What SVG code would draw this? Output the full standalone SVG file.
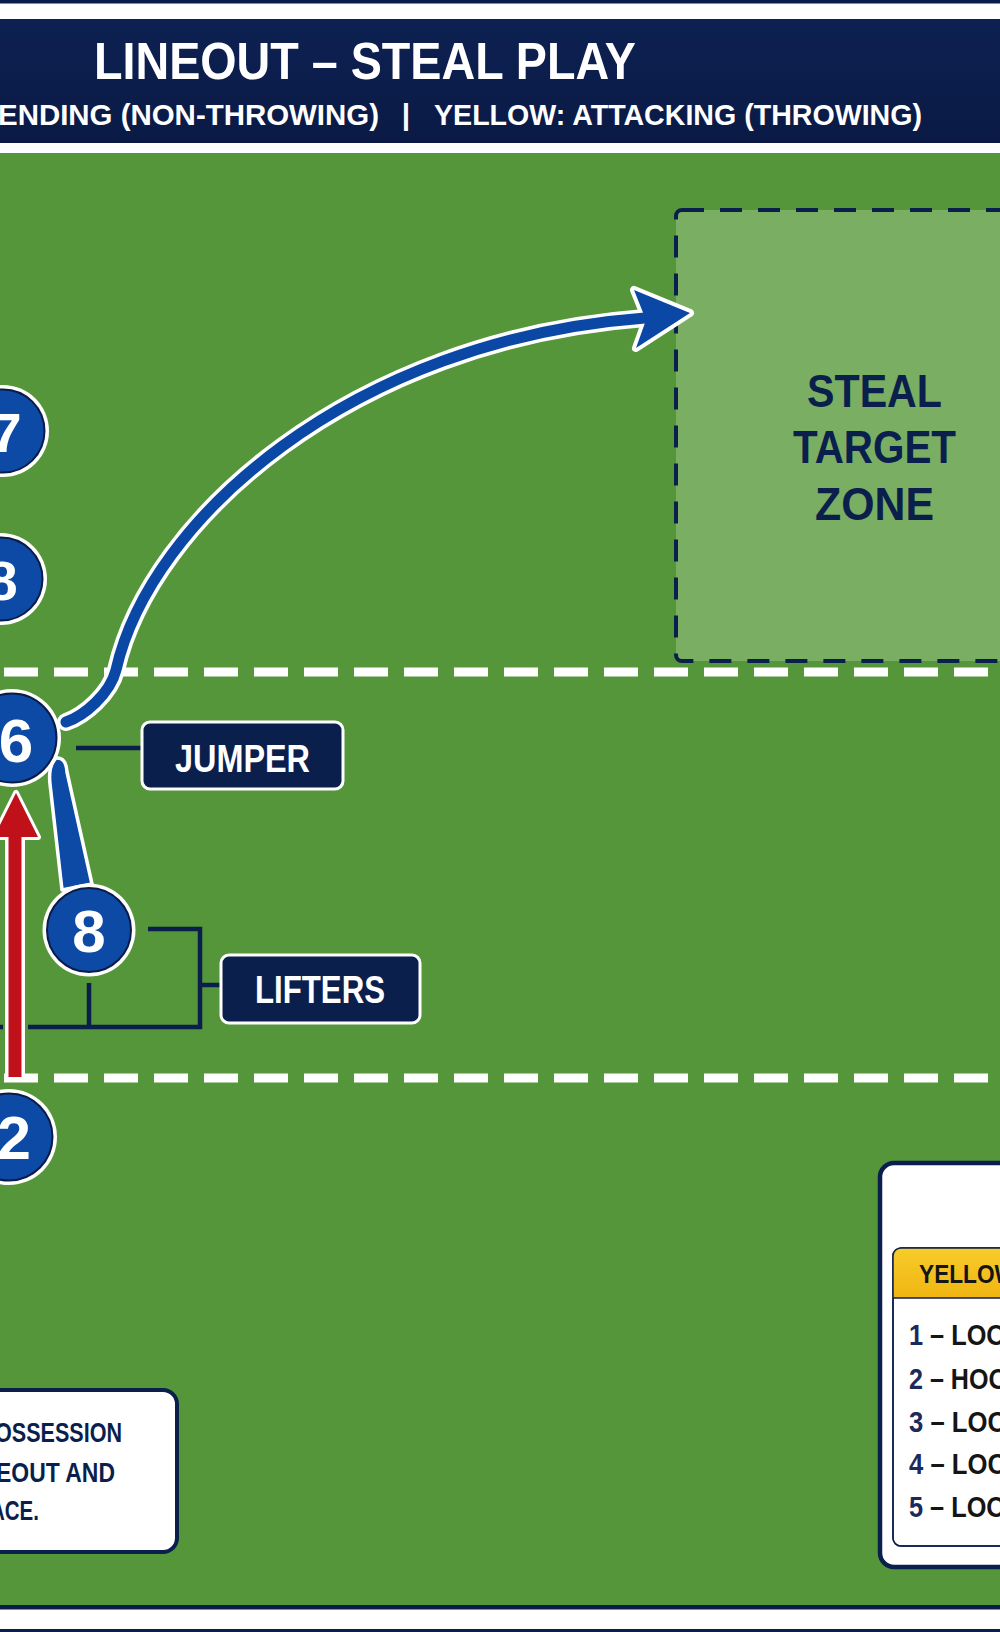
<svg xmlns="http://www.w3.org/2000/svg" width="1000" height="1632" viewBox="0 0 1000 1632">
<defs>
<style>
.t{font-family:"Liberation Sans",Arial,sans-serif;font-weight:bold}
.ring{fill:#ffffff}
.disc{fill:#0c4aa6;stroke:#0a1c45;stroke-width:2}
.num{font-family:"Liberation Sans",Arial,sans-serif;font-weight:bold;fill:#ffffff;text-anchor:middle}
.lbl{fill:#0b1f4d;stroke:#ffffff;stroke-width:3}
.lt{fill:#ffffff;font-size:38px}
.ln{stroke:#0b1f4d;stroke-width:4.5;fill:none}
.dash{stroke:#ffffff;stroke-width:9;stroke-dasharray:34 16;stroke-dashoffset:-4;fill:none}
.zt{fill:#0b1f4d;font-size:47px}
.bt{fill:#0b1f4d;font-size:27px}
.li{font-size:29px;fill:#151515}
.nv{fill:#1b2a5a}
</style>
<linearGradient id="hdr" x1="0" y1="0" x2="0" y2="1">
<stop offset="0" stop-color="#0d2152"/>
<stop offset="1" stop-color="#0a1a45"/>
</linearGradient>
<linearGradient id="yel" x1="0" y1="0" x2="0" y2="1">
<stop offset="0" stop-color="#f8cc2a"/>
<stop offset="1" stop-color="#efb512"/>
</linearGradient>
</defs>

<!-- frame and header -->
<rect x="0" y="0" width="1000" height="1632" fill="#ffffff"/>
<rect x="0" y="0" width="1000" height="3.5" fill="#0b1d4b"/>
<rect x="0" y="19" width="1000" height="124" fill="url(#hdr)"/>
<rect x="0" y="153" width="1000" height="1452" fill="#55963a"/>
<rect x="0" y="1605" width="1000" height="4.5" fill="#0b1d4b"/>
<rect x="0" y="1629" width="1000" height="3" fill="#0b1d4b"/>

<g id="title">
<text class="t" x="94" y="79" font-size="52" fill="#ffffff" textLength="542" lengthAdjust="spacingAndGlyphs">LINEOUT – STEAL PLAY</text>
<text class="t" x="-2" y="125" font-size="30" fill="#ffffff" textLength="381" lengthAdjust="spacingAndGlyphs">ENDING (NON-THROWING)</text>
<text class="t" x="406" y="125" font-size="30" fill="#ffffff" text-anchor="middle">|</text>
<text class="t" x="434" y="125" font-size="30" fill="#ffffff" textLength="488" lengthAdjust="spacingAndGlyphs">YELLOW: ATTACKING (THROWING)</text>
</g>

<!-- field lines -->
<g id="field-lines">
<path class="dash" d="M0,672 H1000"/>
<path class="dash" d="M0,1078 H1000"/>
</g>

<!-- steal target zone -->
<g id="steal-zone">
<rect x="676" y="210" width="340" height="451" rx="6" fill="#7aae62" stroke="#0b1f4d" stroke-width="4" stroke-dasharray="22 16"/>
<text class="t zt" x="807" y="407" textLength="135" lengthAdjust="spacingAndGlyphs">STEAL</text>
<text class="t zt" x="793" y="463" textLength="163" lengthAdjust="spacingAndGlyphs">TARGET</text>
<text class="t zt" x="815" y="520" textLength="119" lengthAdjust="spacingAndGlyphs">ZONE</text>
</g>

<!-- connectors -->
<g id="connectors">
<path class="ln" d="M76,748 H142"/>
<path class="ln" d="M148,929 H200 V1027 H28"/>
<path class="ln" d="M-5,1027 H3"/>
<path class="ln" d="M89,983 V1027"/>
<path class="ln" d="M200,985 H221"/>
<g id="steal-arrow">
<path d="M66,722 C84,716 110,694 116,670 C150,520 350,340 645,318" fill="none" stroke="#ffffff" stroke-width="18" stroke-linecap="round"/>
<polygon points="690,313 634,290 646,320 636,348" fill="#ffffff" stroke="#ffffff" stroke-width="8" stroke-linejoin="round"/>
<path d="M66,722 C84,716 110,694 116,670 C150,520 350,340 645,318" fill="none" stroke="#0b48a6" stroke-width="11" stroke-linecap="round"/>
<polygon points="690,313 634,290 646,320 636,348" fill="#0b48a6"/>
</g>
<path d="M50,784 Q48,766 56,758 Q66,757 67,772 L92,884 L62,890 Z" fill="#0c4aa6" stroke="#ffffff" stroke-width="3.5" stroke-linejoin="round"/>
<g id="red-arrow">
<path d="M15,1079 V836" stroke="#ffffff" stroke-width="20" fill="none"/>
<polygon points="16,793 -6,837 38,837" fill="#ffffff" stroke="#ffffff" stroke-width="6" stroke-linejoin="round"/>
<path d="M15,1077 V836" stroke="#c0101a" stroke-width="13" fill="none"/>
<polygon points="16,793 -6,837 38,837" fill="#c0101a"/>
</g>
</g>

<!-- players -->
<g id="p7">
<circle class="ring" cx="3" cy="431" r="46"/>
<circle class="disc" cx="3" cy="431" r="41.5"/>
<text class="num" x="6" y="452" font-size="56">7</text>
</g>
<g id="p8a">
<circle class="ring" cx="1" cy="579" r="46"/>
<circle class="disc" cx="1" cy="579" r="41.5"/>
<text class="num" x="2" y="600" font-size="56">8</text>
</g>
<g id="p6">
<circle class="ring" cx="12" cy="738" r="49"/>
<circle class="disc" cx="12" cy="738" r="44.5"/>
<text class="num" x="16" y="762" font-size="62">6</text>
</g>
<g id="p8b">
<circle class="ring" cx="89" cy="930" r="46.5"/>
<circle class="disc" cx="89" cy="930" r="42"/>
<text class="num" x="89" y="952" font-size="60">8</text>
</g>
<g id="p2">
<circle class="ring" cx="9" cy="1137" r="48"/>
<circle class="disc" cx="9" cy="1137" r="43.5"/>
<text class="num" x="14" y="1159" font-size="61">2</text>
</g>

<!-- labels -->
<g id="jumper">
<rect class="lbl" x="142" y="722" width="201" height="67" rx="8"/>
<text class="t lt" x="175" y="772" textLength="135" lengthAdjust="spacingAndGlyphs">JUMPER</text>
</g>
<g id="lifters">
<rect class="lbl" x="221" y="955" width="199" height="68" rx="8"/>
<text class="t lt" x="255" y="1003" textLength="130" lengthAdjust="spacingAndGlyphs">LIFTERS</text>
</g>

<!-- note box -->
<g id="note">
<rect x="-30" y="1390" width="207" height="162" rx="14" fill="#ffffff" stroke="#0b1f4d" stroke-width="4"/>
<text class="t bt" x="-5" y="1442" textLength="127" lengthAdjust="spacingAndGlyphs">OSSESSION</text>
<text class="t bt" x="-4" y="1482" textLength="119" lengthAdjust="spacingAndGlyphs">EOUT AND</text>
<text class="t bt" x="-10" y="1520" textLength="49" lengthAdjust="spacingAndGlyphs">ACE.</text>
</g>

<!-- legend -->
<g id="legend">
<rect x="880" y="1163" width="150" height="404" rx="14" fill="#ffffff" stroke="#0b1f4d" stroke-width="4.5"/>
<rect x="893" y="1248" width="140" height="298" rx="8" fill="#ffffff" stroke="#0b1f4d" stroke-width="1.5"/>
<path d="M893,1298 V1256 Q893,1248 901,1248 H1000 V1298 Z" fill="url(#yel)"/>
<path d="M893,1298 H1000" stroke="#0b1f4d" stroke-width="1.5"/>
<rect x="893" y="1248" width="140" height="298" rx="8" fill="none" stroke="#0b1f4d" stroke-width="1.5"/>
<text class="t" x="919" y="1283" font-size="25" fill="#151515" textLength="97" lengthAdjust="spacingAndGlyphs">YELLOW</text>
<text class="t li" x="909" y="1345" textLength="97" lengthAdjust="spacingAndGlyphs"><tspan class="nv">1</tspan> – LOO</text>
<text class="t li" x="909" y="1389" textLength="99" lengthAdjust="spacingAndGlyphs"><tspan class="nv">2</tspan> – HOO</text>
<text class="t li" x="909" y="1432" textLength="97" lengthAdjust="spacingAndGlyphs"><tspan class="nv">3</tspan> – LOC</text>
<text class="t li" x="909" y="1474" textLength="97" lengthAdjust="spacingAndGlyphs"><tspan class="nv">4</tspan> – LOC</text>
<text class="t li" x="909" y="1517" textLength="97" lengthAdjust="spacingAndGlyphs"><tspan class="nv">5</tspan> – LOO</text>
</g>
</svg>
